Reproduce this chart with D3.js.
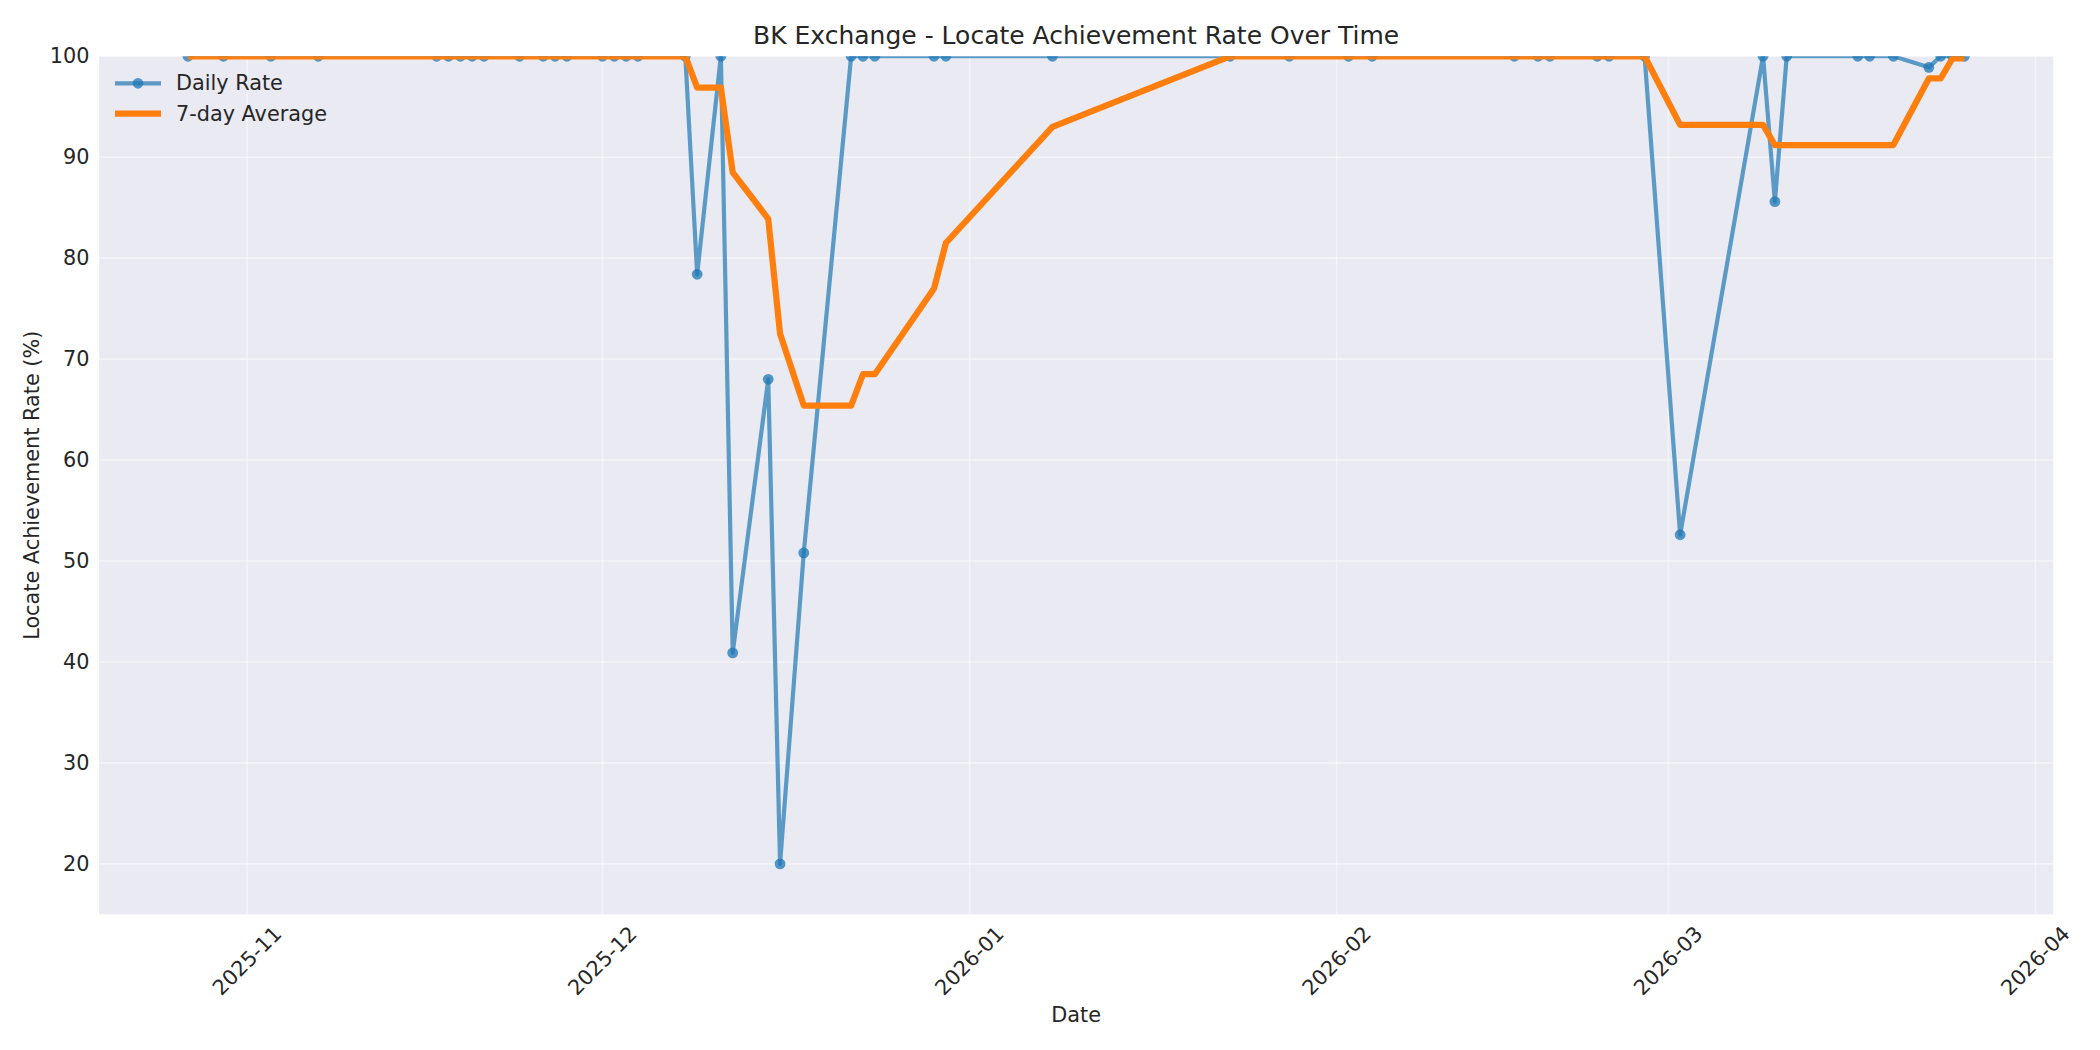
<!DOCTYPE html>
<html>
<head>
<meta charset="utf-8">
<script src="https://cdn.jsdelivr.net/npm/d3@7"></script>
<style>
  html, body { margin: 0; padding: 0; background: #ffffff; }
  svg { display: block; font-family: "DejaVu Sans", sans-serif; }
</style>
</head>
<body>
<svg id="chart" width="2100" height="1050"></svg>
<script>
// ---- data ----
const dates = ["2025-10-27","2025-10-30","2025-11-03","2025-11-07","2025-11-17","2025-11-18","2025-11-19","2025-11-20","2025-11-21","2025-11-24","2025-11-26","2025-11-27","2025-11-28","2025-12-01","2025-12-02","2025-12-03","2025-12-04","2025-12-08","2025-12-09","2025-12-11","2025-12-12","2025-12-15","2025-12-16","2025-12-18","2025-12-22","2025-12-23","2025-12-24","2025-12-29","2025-12-30","2026-01-08","2026-01-23","2026-01-28","2026-02-02","2026-02-04","2026-02-16","2026-02-18","2026-02-19","2026-02-23","2026-02-24","2026-02-27","2026-03-02","2026-03-09","2026-03-10","2026-03-11","2026-03-17","2026-03-18","2026-03-20","2026-03-23","2026-03-24","2026-03-25","2026-03-26"];
const dailyRate = [100,100,100,100,100,100,100,100,100,100,100,100,100,100,100,100,100,100,
  78.4,100,40.9,68.0,20.0,50.8,
  100,100,100,100,100,100,
  100,100,100,100,100,100,100,100,100,100,
  52.6,100,85.6,100,100,100,100,98.9,100,100,100];
const avg7 = [100,100,100,100,100,100,100,100,100,100,100,100,100,100,100,100,100,100,
  96.9,96.9,88.5,83.9,72.5,65.4,
  65.4,68.5,68.5,77.0,81.5,93.0,
  100,100,100,100,100,100,100,100,100,100,
  93.2,93.2,91.2,91.2,91.2,91.2,91.2,97.8,97.8,99.8,99.8];
const xTickDates = ["2025-11-01","2025-12-01","2026-01-01","2026-02-01","2026-03-01","2026-04-01"];
const xTickLabels = ["2025-11","2025-12","2026-01","2026-02","2026-03","2026-04"];
const yTicks = [20,30,40,50,60,70,80,90,100];
const seriesNames = ["Daily Rate","7-day Average"];
const titleText = "BK Exchange - Locate Achievement Rate Over Time";
const xLabelText = "Date";
const yLabelText = "Locate Achievement Rate (%)";

// ---- layout ----
const W = 2100, H = 1050;
const plot = { left: 99.1, right: 2053.2, top: 56.25, bottom: 914.3 };
const textColor = "#262626";
const blue = "#1f77b4", orange = "#ff7f0e";
const markerR = 5.4;

const parse = d3.utcParse("%Y-%m-%d");
const pts = dates.map((d, i) => ({ date: parse(d), v: dailyRate[i], a: avg7[i] }));

const dMin = pts[0].date, dMax = pts[pts.length - 1].date;
const span = dMax - dMin;
const x = d3.scaleUtc()
  .domain([new Date(+dMin - span * 0.05), new Date(+dMax + span * 0.05)])
  .range([plot.left, plot.right]);
const y = d3.scaleLinear().domain([15, 100]).range([plot.bottom, plot.top]);

const svg = d3.select("#chart");
svg.append("rect").attr("width", W).attr("height", H).attr("fill", "#ffffff");

svg.append("defs").append("clipPath").attr("id", "clip")
  .append("rect")
  .attr("x", plot.left).attr("y", plot.top)
  .attr("width", plot.right - plot.left).attr("height", plot.bottom - plot.top);

// background
svg.append("rect")
  .attr("x", plot.left).attr("y", plot.top)
  .attr("width", plot.right - plot.left).attr("height", plot.bottom - plot.top)
  .attr("fill", "#eaeaf2");

// grid
const grid = svg.append("g");
const xTicks = xTickDates.map(parse);
grid.selectAll("line.gx").data(xTicks).enter().append("line")
  .attr("x1", d => x(d)).attr("x2", d => x(d))
  .attr("y1", plot.top).attr("y2", plot.bottom)
  .attr("stroke", "#ffffff").attr("stroke-opacity", 0.45).attr("stroke-width", 1.6);
grid.selectAll("line.gy").data(yTicks).enter().append("line")
  .attr("y1", d => y(d)).attr("y2", d => y(d))
  .attr("x1", plot.left).attr("x2", plot.right)
  .attr("stroke", "#ffffff").attr("stroke-opacity", 0.45).attr("stroke-width", 1.6);

// series
const g = svg.append("g").attr("clip-path", "url(#clip)");
const lineDaily = d3.line().x(d => x(d.date)).y(d => y(d.v));
const lineAvg = d3.line().x(d => x(d.date)).y(d => y(d.a));

g.append("path").datum(pts).attr("d", lineDaily)
  .attr("fill", "none").attr("stroke", blue).attr("stroke-opacity", 0.7)
  .attr("stroke-width", 4.2).attr("stroke-linejoin", "round");
g.selectAll("circle.pt").data(pts).enter().append("circle")
  .attr("cx", d => x(d.date)).attr("cy", d => y(d.v)).attr("r", markerR)
  .attr("fill", blue).attr("fill-opacity", 0.75);
g.append("path").datum(pts).attr("d", lineAvg)
  .attr("fill", "none").attr("stroke", orange)
  .attr("stroke-width", 6.25).attr("stroke-linejoin", "round");

// y tick labels
svg.append("g").selectAll("text").data(yTicks).enter().append("text")
  .attr("x", 89.5).attr("y", d => y(d))
  .attr("text-anchor", "end").attr("dominant-baseline", "central")
  .attr("font-size", 20.8).attr("fill", textColor)
  .text(d => d3.format("d")(d));

// x tick labels rotated 45deg, bbox centered on tick
const xl = svg.append("g");
xTicks.forEach((d, i) => {
  const t = xl.append("text")
    .attr("text-anchor", "middle").attr("dominant-baseline", "central")
    .attr("font-size", 20.8).attr("fill", textColor)
    .text(xTickLabels[i]);
  const w = t.node().getComputedTextLength();
  const h = 24.2;
  const bb = (w + h) * Math.SQRT1_2;
  t.attr("transform", `translate(${x(d)},${plot.bottom + 7.3 + bb / 2}) rotate(-45)`);
});

// axis labels
svg.append("text").attr("x", (plot.left + plot.right) / 2).attr("y", 1015)
  .attr("text-anchor", "middle").attr("dominant-baseline", "central")
  .attr("font-size", 20.8).attr("fill", textColor).text(xLabelText);
svg.append("text")
  .attr("transform", `translate(32,${(plot.top + plot.bottom) / 2}) rotate(-90)`)
  .attr("text-anchor", "middle").attr("dominant-baseline", "central")
  .attr("font-size", 20.8).attr("fill", textColor).text(yLabelText);

// title
svg.append("text").attr("x", (plot.left + plot.right) / 2).attr("y", 43.5)
  .attr("text-anchor", "middle")
  .attr("font-size", 25).attr("fill", textColor).text(titleText);

// legend
const lg = svg.append("g");
const rows = [83.3, 113.7];
lg.append("line").attr("x1", 115).attr("x2", 161).attr("y1", rows[0]).attr("y2", rows[0])
  .attr("stroke", blue).attr("stroke-opacity", 0.7).attr("stroke-width", 4.2);
lg.append("circle").attr("cx", 138).attr("cy", rows[0]).attr("r", markerR)
  .attr("fill", blue).attr("fill-opacity", 0.75);
lg.append("line").attr("x1", 115).attr("x2", 161).attr("y1", rows[1]).attr("y2", rows[1])
  .attr("stroke", orange).attr("stroke-width", 6.25);
seriesNames.forEach((n, i) => {
  lg.append("text").attr("x", 176).attr("y", rows[i])
    .attr("dominant-baseline", "central")
    .attr("font-size", 20.8).attr("fill", textColor).text(n);
});
</script>
</body>
</html>
